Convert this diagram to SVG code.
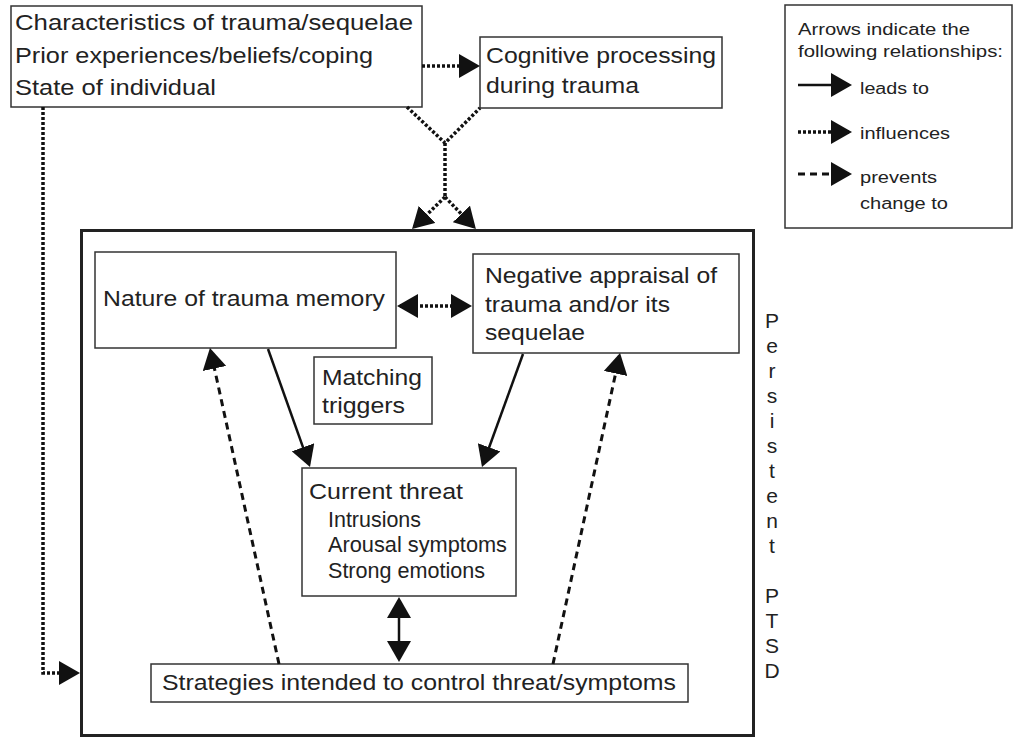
<svg xmlns="http://www.w3.org/2000/svg" width="1015" height="738" viewBox="0 0 1015 738">
<defs>
<style>
text{font-family:"Liberation Sans",Arial,Helvetica,sans-serif;fill:#222}
.t{font-size:22px}
.s{font-size:16px}
.box{fill:#fff;stroke:#333;stroke-width:1.5}
.frame{fill:#fff;stroke:#222;stroke-width:3}
.lead{fill:none;stroke:#111;stroke-width:2.5}
.infl{fill:none;stroke:#111;stroke-width:3.5;stroke-dasharray:3 2}
.prev{fill:none;stroke:#111;stroke-width:3;stroke-dasharray:7 5}
.pl{font-size:21px;text-anchor:middle}
</style>
<marker id="ah" markerUnits="userSpaceOnUse" markerWidth="22" markerHeight="24" refX="18" refY="12" orient="auto-start-reverse" viewBox="0 0 22 24">
<path d="M0,0 L21,12 L0,24 Z" fill="#111"/>
</marker>
</defs>
<rect width="1015" height="738" fill="#fff"/>

<g id="persistent-ptsd">
<rect class="frame" x="81.5" y="230.5" width="672" height="505"/>
<text class="pl" x="772" y="328">P</text>
<text class="pl" x="772" y="353">e</text>
<text class="pl" x="772" y="378">r</text>
<text class="pl" x="772" y="403">s</text>
<text class="pl" x="772" y="428">i</text>
<text class="pl" x="772" y="453">s</text>
<text class="pl" x="772" y="478">t</text>
<text class="pl" x="772" y="503">e</text>
<text class="pl" x="772" y="528">n</text>
<text class="pl" x="772" y="553">t</text>
<text class="pl" x="772" y="603">P</text>
<text class="pl" x="772" y="628">T</text>
<text class="pl" x="772" y="653">S</text>
<text class="pl" x="772" y="678">D</text>
</g>

<g id="characteristics">
<rect class="box" x="11" y="6" width="411" height="101"/>
<text class="t" x="15" y="30" textLength="398" lengthAdjust="spacingAndGlyphs">Characteristics of trauma/sequelae</text>
<text class="t" x="15" y="62.5" textLength="358" lengthAdjust="spacingAndGlyphs">Prior experiences/beliefs/coping</text>
<text class="t" x="15" y="95" textLength="201" lengthAdjust="spacingAndGlyphs">State of individual</text>
</g>

<g id="cognitive-processing">
<rect class="box" x="480" y="37" width="242" height="71"/>
<text class="t" x="486" y="63" textLength="230" lengthAdjust="spacingAndGlyphs">Cognitive processing</text>
<text class="t" x="486" y="93" textLength="153" lengthAdjust="spacingAndGlyphs">during trauma</text>
</g>

<g id="legend">
<rect class="box" x="785" y="5" width="227" height="223"/>
<text class="s" x="798" y="35" textLength="172" lengthAdjust="spacingAndGlyphs">Arrows indicate the</text>
<text class="s" x="798" y="57" textLength="205" lengthAdjust="spacingAndGlyphs">following relationships:</text>
<text class="s" x="860" y="94" textLength="69" lengthAdjust="spacingAndGlyphs">leads to</text>
<text class="s" x="860" y="139" textLength="90" lengthAdjust="spacingAndGlyphs">influences</text>
<text class="s" x="860" y="183" textLength="77" lengthAdjust="spacingAndGlyphs">prevents</text>
<text class="s" x="860" y="209" textLength="88" lengthAdjust="spacingAndGlyphs">change to</text>
</g>

<g id="trauma-memory">
<rect class="box" x="95" y="252" width="301" height="96"/>
<text class="t" x="103" y="306" textLength="282" lengthAdjust="spacingAndGlyphs">Nature of trauma memory</text>
</g>

<g id="negative-appraisal">
<rect class="box" x="473" y="254" width="266" height="99"/>
<text class="t" x="485" y="283" textLength="232" lengthAdjust="spacingAndGlyphs">Negative appraisal of</text>
<text class="t" x="485" y="312" textLength="185" lengthAdjust="spacingAndGlyphs">trauma and/or its</text>
<text class="t" x="485" y="340" textLength="100" lengthAdjust="spacingAndGlyphs">sequelae</text>
</g>

<g id="matching-triggers">
<rect class="box" x="314" y="357" width="118" height="67"/>
<text class="t" x="322" y="385" textLength="100" lengthAdjust="spacingAndGlyphs">Matching</text>
<text class="t" x="322" y="413" textLength="83" lengthAdjust="spacingAndGlyphs">triggers</text>
</g>

<g id="current-threat">
<rect class="box" x="302" y="468" width="214" height="128"/>
<text class="t" x="309" y="499" textLength="154" lengthAdjust="spacingAndGlyphs">Current threat</text>
<text class="t" x="328" y="527" textLength="93" lengthAdjust="spacingAndGlyphs">Intrusions</text>
<text class="t" x="328" y="552" textLength="179" lengthAdjust="spacingAndGlyphs">Arousal symptoms</text>
<text class="t" x="328" y="578" textLength="157" lengthAdjust="spacingAndGlyphs">Strong emotions</text>
</g>

<g id="strategies">
<rect class="box" x="151" y="664" width="537" height="38"/>
<text class="t" x="162" y="690" textLength="514" lengthAdjust="spacingAndGlyphs">Strategies intended to control threat/symptoms</text>
</g>

<g id="connectors">
<line class="infl" x1="422" y1="66" x2="477" y2="66" marker-end="url(#ah)"/>
<path class="infl" d="M407,107 L445,143 L480,108"/>
<path class="infl" d="M445,143 L445,197"/>
<path class="infl" d="M445,197 L414.2,226.9" marker-end="url(#ah)"/>
<path class="infl" d="M445,197 L473.8,226.9" marker-end="url(#ah)"/>
<path class="infl" d="M43,107 L43,673 L77,673" marker-end="url(#ah)"/>
<line class="infl" x1="400" y1="306" x2="469" y2="306" marker-start="url(#ah)" marker-end="url(#ah)"/>
<line class="lead" x1="268" y1="349" x2="309" y2="464.2" marker-end="url(#ah)"/>
<line class="lead" x1="523" y1="354" x2="483" y2="464.2" marker-end="url(#ah)"/>
<line class="lead" x1="399" y1="600" x2="399" y2="659" marker-start="url(#ah)" marker-end="url(#ah)"/>
<line class="prev" x1="279" y1="664" x2="210.6" y2="350.9" marker-end="url(#ah)"/>
<line class="prev" x1="553" y1="664" x2="619.4" y2="355.9" marker-end="url(#ah)"/>
<line class="lead" x1="798" y1="85" x2="849" y2="85" marker-end="url(#ah)"/>
<line class="infl" x1="798" y1="132" x2="849" y2="132" marker-end="url(#ah)"/>
<line class="prev" x1="798" y1="174" x2="849" y2="174" marker-end="url(#ah)"/>
</g>
</svg>
